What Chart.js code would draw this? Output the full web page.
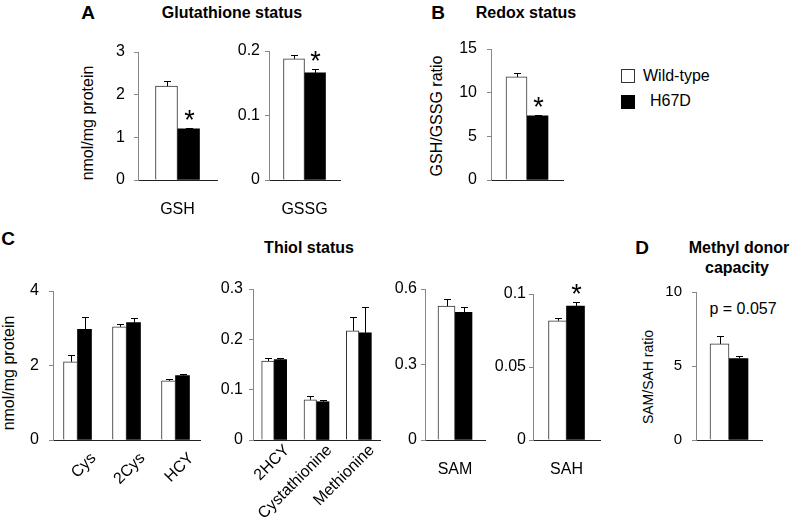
<!DOCTYPE html>
<html>
<head>
<meta charset="utf-8">
<script src="https://cdn.jsdelivr.net/npm/chart.js@4.4.1/dist/chart.umd.min.js"></script>
<style>
  body { margin: 0; background: #fff; }
  #fig { position: relative; width: 792px; height: 518px; overflow: hidden; font-family: 'Liberation Sans', Arial, sans-serif; color: #000; }
  #fig canvas { position: absolute; }
  .t { position: absolute; transform: translate(-50%, -50%); line-height: 1; white-space: nowrap; }
  .b { font-weight: bold; }
  .rot { transform: translate(-50%, -50%) rotate(-90deg); }
  .box { position: absolute; width: 12px; height: 12px; border: 1px solid #333; }
</style>
</head>
<body>
<div id="fig">
  <div class="t b" style="left:88px;top:12px;font-size:19px">A</div>
  <div class="t b" style="left:232px;top:13px;font-size:16px">Glutathione status</div>
  <div class="t b" style="left:438px;top:12px;font-size:19px">B</div>
  <div class="t b" style="left:526px;top:13px;font-size:16px">Redox status</div>
  <div class="t b" style="left:8px;top:238px;font-size:19px">C</div>
  <div class="t b" style="left:309px;top:248px;font-size:16px">Thiol status</div>
  <div class="t b" style="left:642px;top:247px;font-size:19px">D</div>
  <div class="t b" style="left:739px;top:248px;font-size:16px">Methyl donor</div>
  <div class="t b" style="left:737px;top:268px;font-size:16px">capacity</div>
  <div class="t" style="left:743px;top:309px;font-size:16px">p = 0.057</div>

  <div class="t rot" style="left:88px;top:123px;font-size:16px">nmol/mg protein</div>
  <div class="t rot" style="left:437px;top:116px;font-size:16px">GSH/GSSG ratio</div>
  <div class="t rot" style="left:9px;top:373px;font-size:16px">nmol/mg protein</div>
  <div class="t rot" style="left:648px;top:377px;font-size:14px">SAM/SAH ratio</div>

  <div class="box" style="left:621px;top:69px;background:#fff"></div>
  <div class="t" style="left:643px;top:76px;font-size:16px;transform:translate(0,-50%)">Wild-type</div>
  <div class="box" style="left:621px;top:95px;background:#000;border-color:#000"></div>
  <div class="t" style="left:650px;top:101px;font-size:16px;transform:translate(0,-50%)">H67D</div>
</div>
<script>
// ---- data ----
// A: glutathione status (nmol/mg protein)
const gshCats = ['GSH'];
const gshWT = [2.2], gshWTsem = [0.13];
const gshMut = [1.2], gshMutSem = [0.02];
const gshSig = [true];
const gshTicks = ['0', '1', '2', '3'];

const gssgCats = ['GSSG'];
const gssgWT = [0.188], gssgWTsem = [0.006];
const gssgMut = [0.166], gssgMutSem = [0.006];
const gssgSig = [true];
const gssgTicks = ['0', '0.1', '0.2'];

// B: redox status
const redoxCats = [''];
const redoxWT = [11.8], redoxWTsem = [0.5];
const redoxMut = [7.35], redoxMutSem = [0.12];
const redoxSig = [true];
const redoxTicks = ['0', '5', '10', '15'];

// C: thiol status
const thiol1Cats = ['Cys', '2Cys', 'HCY'];
const thiol1WT = [2.10, 3.04, 1.59], thiol1WTsem = [0.17, 0.07, 0.06];
const thiol1Mut = [2.97, 3.15, 1.73], thiol1MutSem = [0.34, 0.13, 0.04];
const thiol1Sig = [false, false, false];
const thiol1Ticks = ['0', '2', '4'];

const thiol2Cats = ['2HCY', 'Cystathionine', 'Methionine'];
const thiol2WT = [0.157, 0.080, 0.217], thiol2WTsem = [0.006, 0.008, 0.027];
const thiol2Mut = [0.160, 0.076, 0.213], thiol2MutSem = [0.003, 0.004, 0.052];
const thiol2Sig = [false, false, false];
const thiol2Ticks = ['0', '0.1', '0.2', '0.3'];

const samCats = ['SAM'];
const samWT = [0.532], samWTsem = [0.028];
const samMut = [0.507], samMutSem = [0.021];
const samSig = [false];
const samTicks = ['0', '0.3', '0.6'];

const sahCats = ['SAH'];
const sahWT = [0.0817], sahWTsem = [0.002];
const sahMut = [0.0918], sahMutSem = [0.0025];
const sahSig = [true];
const sahTicks = ['0', '0.05', '0.1'];

// D: methyl donor capacity
const ratioCats = [''];
const ratioWT = [6.49], ratioWTsem = [0.56];
const ratioMut = [5.50], ratioMutSem = [0.16];
const ratioSig = [false];
const ratioTicks = ['0', '5', '10'];

Chart.defaults.font.family = "'Liberation Sans', Arial, sans-serif";
Chart.defaults.color = '#000';

// error bars (upper only) + significance asterisks
const errorBars = {
  id: 'errorBars',
  afterDatasetsDraw(chart, args, opts) {
    const ctx = chart.ctx;
    const ys = chart.scales.y;
    ctx.save();
    ctx.strokeStyle = '#000';
    ctx.lineWidth = 1;
    chart.data.datasets.forEach((ds, di) => {
      chart.getDatasetMeta(di).data.forEach((bar, i) => {
        const x = Math.round(bar.x) + 0.5;
        const top = Math.round(ys.getPixelForValue(ds.data[i] + ds.sem[i])) + 0.5;
        ctx.beginPath();
        ctx.moveTo(x, bar.y);
        ctx.lineTo(x, top);
        ctx.moveTo(x - 3.5, top);
        ctx.lineTo(x + 3.5, top);
        ctx.stroke();
        if (di === 1 && opts.sig && opts.sig[i]) {
          ctx.fillStyle = '#000';
          ctx.font = "27px 'Liberation Sans', Arial, sans-serif";
          ctx.textAlign = 'center';
          ctx.textBaseline = 'alphabetic';
          ctx.fillText('*', x, top);
        }
      });
    });
    ctx.restore();
  }
};

function panel(c) {
  const W = 60, padTop = 12, padRight = 4;
  const cv = document.createElement('canvas');
  const w = W + (c.x1 - c.x0) + padRight;
  const h = padTop + (c.y0 - c.y1) + c.xh;
  cv.width = w;
  cv.height = h;
  cv.style.left = (c.x0 - W) + 'px';
  cv.style.top = (c.y1 - padTop) + 'px';
  cv.style.width = w + 'px';
  cv.style.height = h + 'px';
  document.getElementById('fig').appendChild(cv);
  const tickVals = c.ticks.map(Number);
  new Chart(cv, {
    type: 'bar',
    data: {
      labels: c.labels,
      datasets: [
        { label: 'Wild-type', data: c.wt, sem: c.wtSem, backgroundColor: '#fff',
          borderColor: '#333', borderWidth: 1, barThickness: c.bw },
        { label: 'H67D', data: c.mut, sem: c.mutSem, backgroundColor: '#000',
          borderColor: '#000', borderWidth: 0, barThickness: c.bw }
      ]
    },
    options: {
      responsive: false,
      animation: false,
      devicePixelRatio: 1,
      layout: { padding: { top: padTop, right: padRight, left: 0, bottom: 0 } },
      plugins: {
        legend: { display: false },
        tooltip: { enabled: false },
        errorBars: { sig: c.sig }
      },
      scales: {
        x: {
          grid: { display: false, drawTicks: false },
          border: { display: true, color: '#222', width: 1 },
          ticks: {
            font: { size: 16 }, color: '#000', padding: c.xpad,
            minRotation: c.rot || 0, maxRotation: c.rot || 0,
            labelOffset: c.lo || 0, autoSkip: false
          },
          afterFit: s => { s.height = c.xh; s.paddingLeft = 0; s.paddingRight = 0; }
        },
        y: {
          min: 0,
          max: tickVals[tickVals.length - 1],
          grid: { drawOnChartArea: false, drawTicks: true, tickLength: 4, color: '#888' },
          border: { display: true, color: '#888', width: 1 },
          ticks: {
            font: { size: c.tf || 16 }, color: '#000', padding: c.ypad,
            callback: (v, i) => c.ticks[i]
          },
          afterBuildTicks: s => { s.ticks = tickVals.map(v => ({ value: v })); },
          afterFit: s => { s.width = W; s.paddingTop = 0; s.paddingBottom = 0; }
        }
      }
    },
    plugins: [errorBars]
  });
}

panel({ labels: gshCats, wt: gshWT, wtSem: gshWTsem, mut: gshMut, mutSem: gshMutSem, sig: gshSig,
  ticks: gshTicks, x0: 138, x1: 217, y1: 52, y0: 180, xh: 36, bw: 22, xpad: 20, ypad: 9 });
panel({ labels: gssgCats, wt: gssgWT, wtSem: gssgWTsem, mut: gssgMut, mutSem: gssgMutSem, sig: gssgSig,
  ticks: gssgTicks, x0: 269, x1: 340, y1: 51, y0: 180, xh: 36, bw: 21, xpad: 20, ypad: 5 });
panel({ labels: redoxCats, wt: redoxWT, wtSem: redoxWTsem, mut: redoxMut, mutSem: redoxMutSem, sig: redoxSig,
  ticks: redoxTicks, x0: 491, x1: 563, y1: 49, y0: 180, xh: 20, bw: 21, xpad: 20, ypad: 10 });
panel({ labels: thiol1Cats, wt: thiol1WT, wtSem: thiol1WTsem, mut: thiol1Mut, mutSem: thiol1MutSem, sig: thiol1Sig,
  ticks: thiol1Ticks, x0: 53, x1: 200, y1: 291, y0: 440, xh: 76, bw: 14, xpad: 9, ypad: 10, rot: 45, lo: 16 });
panel({ labels: thiol2Cats, wt: thiol2WT, wtSem: thiol2WTsem, mut: thiol2Mut, mutSem: thiol2MutSem, sig: thiol2Sig,
  ticks: thiol2Ticks, x0: 253, x1: 380, y1: 289, y0: 440, xh: 78, bw: 12.5, xpad: 1, ypad: 6, rot: 45, lo: 13 });
panel({ labels: samCats, wt: samWT, wtSem: samWTsem, mut: samMut, mutSem: samMutSem, sig: samSig,
  ticks: samTicks, x0: 425, x1: 485, y1: 289, y0: 440, xh: 40, bw: 17, xpad: 20, ypad: 4 });
panel({ labels: sahCats, wt: sahWT, wtSem: sahWTsem, mut: sahMut, mutSem: sahMutSem, sig: sahSig,
  ticks: sahTicks, x0: 533, x1: 600, y1: 294, y0: 440, xh: 40, bw: 18, xpad: 20, ypad: 3 });
panel({ labels: ratioCats, wt: ratioWT, wtSem: ratioWTsem, mut: ratioMut, mutSem: ratioMutSem, sig: ratioSig,
  ticks: ratioTicks, x0: 696, x1: 762, y1: 292, y0: 440, xh: 20, bw: 19, xpad: 20, ypad: 10, tf: 15 });
</script>
</body>
</html>
